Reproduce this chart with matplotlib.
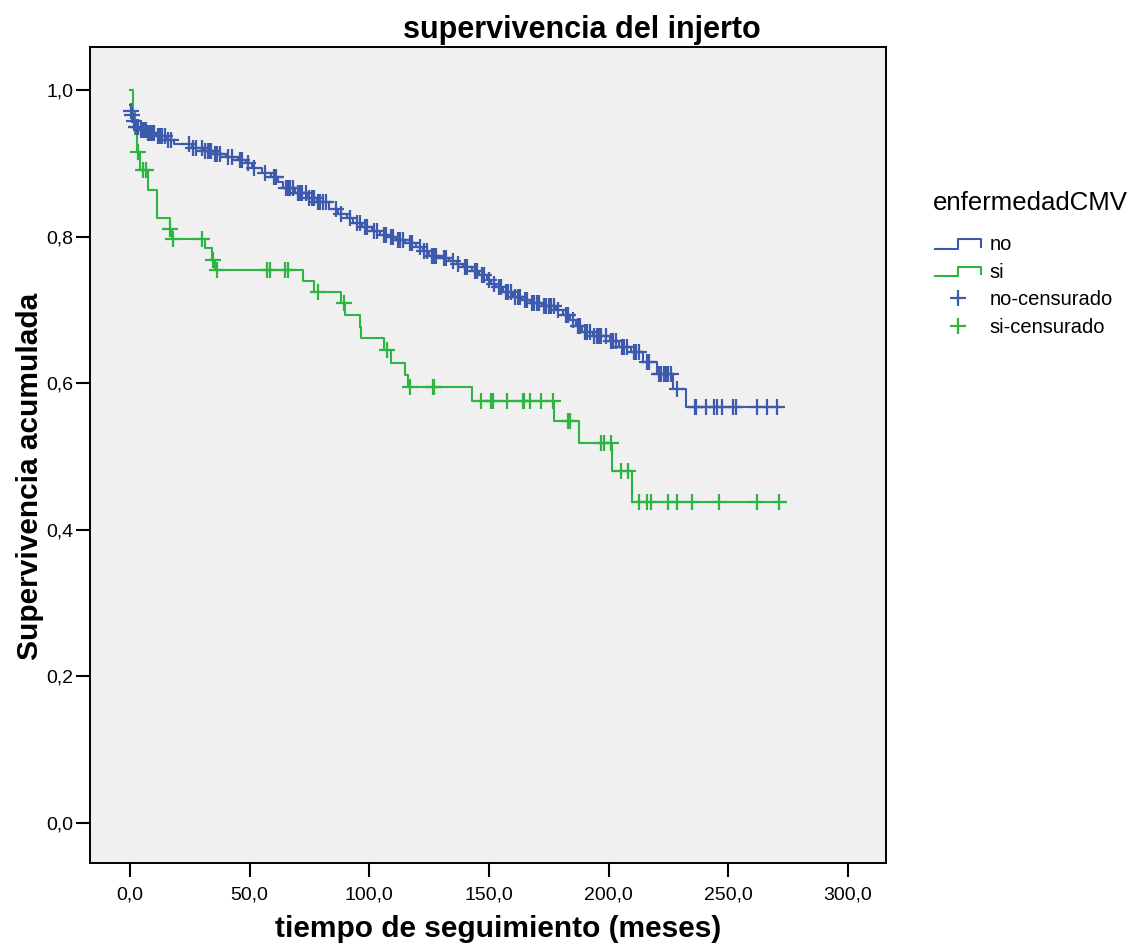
import matplotlib

matplotlib.use("Agg")
import matplotlib.pyplot as plt
import numpy as np
from matplotlib.legend_handler import HandlerBase
from matplotlib.lines import Line2D

plt.rcParams["font.family"] = ["Liberation Sans", "DejaVu Sans"]

BLUE = "#3d5aad"
GREEN = "#2db441"

# enfermedadCMV = no: event times (months) and survival after each event
no_start = 0.979
no_times = [0.3, 0.8, 1.3, 2.0, 4.0, 7.0, 11.0, 15.5, 18.5, 26.0, 31.0, 35.0, 40.0,
            45.0, 48.5, 51.0, 55.0, 59.0, 62.0, 64.0, 69.0, 74.0, 78.0, 83.0, 87.0,
            90.5, 93.0, 97.0, 101.0, 104.5, 108.0, 111.0, 115.0, 119.5, 122.5, 125.0,
            129.0, 133.5, 136.5, 139.0, 143.0, 146.0, 149.0, 151.0, 153.0, 156.0,
            160.0, 164.0, 167.0, 172.0, 178.0, 181.0, 184.0, 186.5, 189.0, 193.5,
            200.5, 204.5, 209.5, 214.5, 220.0, 227.0, 232.4]
no_surv = [0.972, 0.966, 0.958, 0.950, 0.946, 0.941, 0.937, 0.932, 0.927, 0.921, 0.917,
           0.913, 0.909, 0.905, 0.900, 0.894, 0.887, 0.881, 0.874, 0.866, 0.860, 0.853,
           0.847, 0.838, 0.831, 0.825, 0.819, 0.813, 0.807, 0.802, 0.799, 0.796, 0.791,
           0.786, 0.780, 0.774, 0.771, 0.767, 0.763, 0.759, 0.753, 0.747, 0.741, 0.736,
           0.731, 0.725, 0.718, 0.713, 0.709, 0.705, 0.700, 0.693, 0.686, 0.678, 0.670,
           0.664, 0.657, 0.650, 0.643, 0.629, 0.613, 0.592, 0.567]
no_end = 272.3
no_censored = [0.5, 1.0, 1.6, 2.5, 3.0, 3.5, 4.5, 5.0, 5.8, 6.5, 7.5, 8.5, 9.2, 10.0, 11.5,
               12.5, 13.3, 14.5, 16.0, 17.0, 24.5, 26.5, 27.5, 30.0, 31.5, 32.5, 33.3,
               34.0, 35.5, 36.5, 37.5, 41.0, 42.5, 46.0, 47.0, 49.5, 52.0, 56.5, 60.0,
               61.0, 65.0, 66.0, 67.0, 68.0, 70.0, 71.0, 72.0, 73.5, 75.0, 76.0, 77.0,
               78.5, 79.5, 80.5, 82.0, 86.0, 88.0, 92.0, 95.0, 96.0, 98.0, 99.0, 102.0,
               103.0, 106.0, 107.0, 109.0, 110.0, 112.0, 113.0, 114.0, 117.0, 118.0,
               121.0, 123.0, 124.0, 126.0, 127.0, 128.0, 131.0, 132.0, 135.0, 137.0,
               140.0, 141.0, 144.0, 145.0, 147.0, 148.0, 150.0, 152.0, 154.0, 155.0,
               157.0, 158.0, 159.0, 161.0, 162.0, 163.0, 165.0, 166.0, 168.0, 169.0,
               170.0, 171.0, 173.0, 174.0, 175.0, 176.0, 177.0, 179.0, 182.0, 183.0,
               185.0, 187.0, 188.0, 190.0, 191.0, 192.0, 194.0, 195.0, 196.0, 197.0,
               199.0, 201.0, 202.0, 203.0, 205.5, 206.5, 207.5, 210.5, 211.5, 212.5,
               216.0, 217.0, 221.0, 222.0, 223.0, 224.0, 225.0, 226.0, 228.5, 236.0,
               236.6, 240.7, 244.1, 245.2, 247.5, 251.8, 253.2, 261.8, 266.0, 270.2]

# enfermedadCMV = si
si_start = 1.0
si_times = [1.1, 2.0, 3.0, 4.2, 7.7, 11.1, 16.7, 17.5, 31.3, 34.1, 35.5, 72.2, 77.0, 88.0,
            89.8, 96.1, 96.5, 106.1, 108.9, 114.7, 116.0, 142.9, 177.0, 187.5, 201.3,
            209.9]
si_surv = [0.97, 0.94, 0.916, 0.891, 0.864, 0.825, 0.811, 0.797, 0.784, 0.768, 0.755,
           0.740, 0.725, 0.709, 0.693, 0.676, 0.661, 0.645, 0.628, 0.611, 0.595, 0.576,
           0.548, 0.518, 0.480, 0.438]
si_end = 273.7
si_censored = [3.5, 5.6, 6.7, 16.7, 18.1, 29.9, 34.5, 36.2, 57.1, 58.5, 64.8, 66.2, 78.4,
               89.4, 107.2, 117.0, 126.5, 127.0, 146.7, 150.7, 151.8, 157.4, 164.1,
               164.6, 167.1, 171.7, 176.9, 183.1, 183.7, 196.8, 197.9, 201.0, 205.0,
               208.2, 212.7, 215.9, 217.7, 224.9, 228.7, 235.0, 246.1, 262.1, 271.2]

x_ticks = [0, 50, 100, 150, 200, 250, 300]
y_ticks = [0.0, 0.2, 0.4, 0.6, 0.8, 1.0]


def step_curve(start, times, surv, end):
    xs = np.concatenate([[0.0], times, [end]])
    ys = np.concatenate([[start], surv, [surv[-1]]])
    return xs, ys


def surv_at(t, start, times, surv):
    idx = np.searchsorted(times, t, side="right")
    vals = np.concatenate([[start], surv])
    return vals[idx]


class StepHandler(HandlerBase):
    def create_artists(self, legend, orig_handle, xdescent, ydescent, width, height,
                       fontsize, trans):
        lo = -ydescent + height * 0.1
        hi = -ydescent + height * 0.75
        x0 = -xdescent
        xs = [x0, x0 + width * 0.5, x0 + width * 0.5, x0 + width, x0 + width]
        ys = [lo, lo, hi, hi, lo + (hi - lo) * 0.2]
        line = Line2D(xs, ys, color=orig_handle.get_color(), lw=1.5, transform=trans)
        return [line]


fig = plt.figure(figsize=(11.38, 9.49), dpi=100)
ax = fig.add_axes([0.0791, 0.0906, 0.6995, 0.8599])
ax.set_facecolor("#f0f0f0")

curves = [
    ("no", BLUE, no_start, no_times, no_surv, no_end, no_censored),
    ("si", GREEN, si_start, si_times, si_surv, si_end, si_censored),
]
step_handles = []
cens_handles = []
for label, color, start, times, surv, end, cens in curves:
    xs, ys = step_curve(start, times, surv, end)
    (ln,) = ax.step(xs, ys, where="post", color=color, lw=1.5, label=label, zorder=3)
    step_handles.append(ln)
    cy = surv_at(np.array(cens), start, np.array(times), np.array(surv))
    (mk,) = ax.plot(cens, cy, ls="none", marker="+", ms=11, mew=1.6, color=color,
                    label=f"{label}-censurado", zorder=4)
    cens_handles.append(mk)

ax.set_xlim(-16.7, 315.9)
ax.set_ylim(-0.0546, 1.0587)
ax.set_xticks(x_ticks)
ax.set_xticklabels([f"{v:.1f}".replace(".", ",") for v in x_ticks])
ax.set_yticks(y_ticks)
ax.set_yticklabels([f"{v:.1f}".replace(".", ",") for v in y_ticks])
ax.tick_params(direction="out", length=10, width=1.5, labelsize=14)
ax.tick_params(axis="x", pad=7)
ax.tick_params(axis="y", pad=2)
for sp in ax.spines.values():
    sp.set_linewidth(1.4)
    sp.set_color("black")

ax.set_xlabel("tiempo de seguimiento (meses)", fontsize=21.5, fontweight="bold")
ax.xaxis.set_label_coords(0.513, -0.064)
ax.set_ylabel("Supervivencia acumulada", fontsize=21.5, fontweight="bold")
ax.yaxis.set_label_coords(-0.058, 0.474)
fig.suptitle("supervivencia del injerto", x=0.511, y=0.984, fontsize=22,
             fontweight="bold")

fig.text(0.8199, 1 - 203 / 949, "enfermedadCMV", fontsize=18.5, ha="left", va="center")
leg = fig.legend(
    step_handles + cens_handles,
    ["no", "si", "no-censurado", "si-censurado"],
    handler_map={h: StepHandler() for h in step_handles},
    fontsize=14.5,
    loc="upper left",
    bbox_to_anchor=(0.8216, 1 - 235 / 949),
    frameon=False,
    borderpad=0,
    borderaxespad=0,
    handlelength=2.3,
    handletextpad=0.4,
    labelspacing=0.43,
)

fig.savefig("out.png", dpi=100)
